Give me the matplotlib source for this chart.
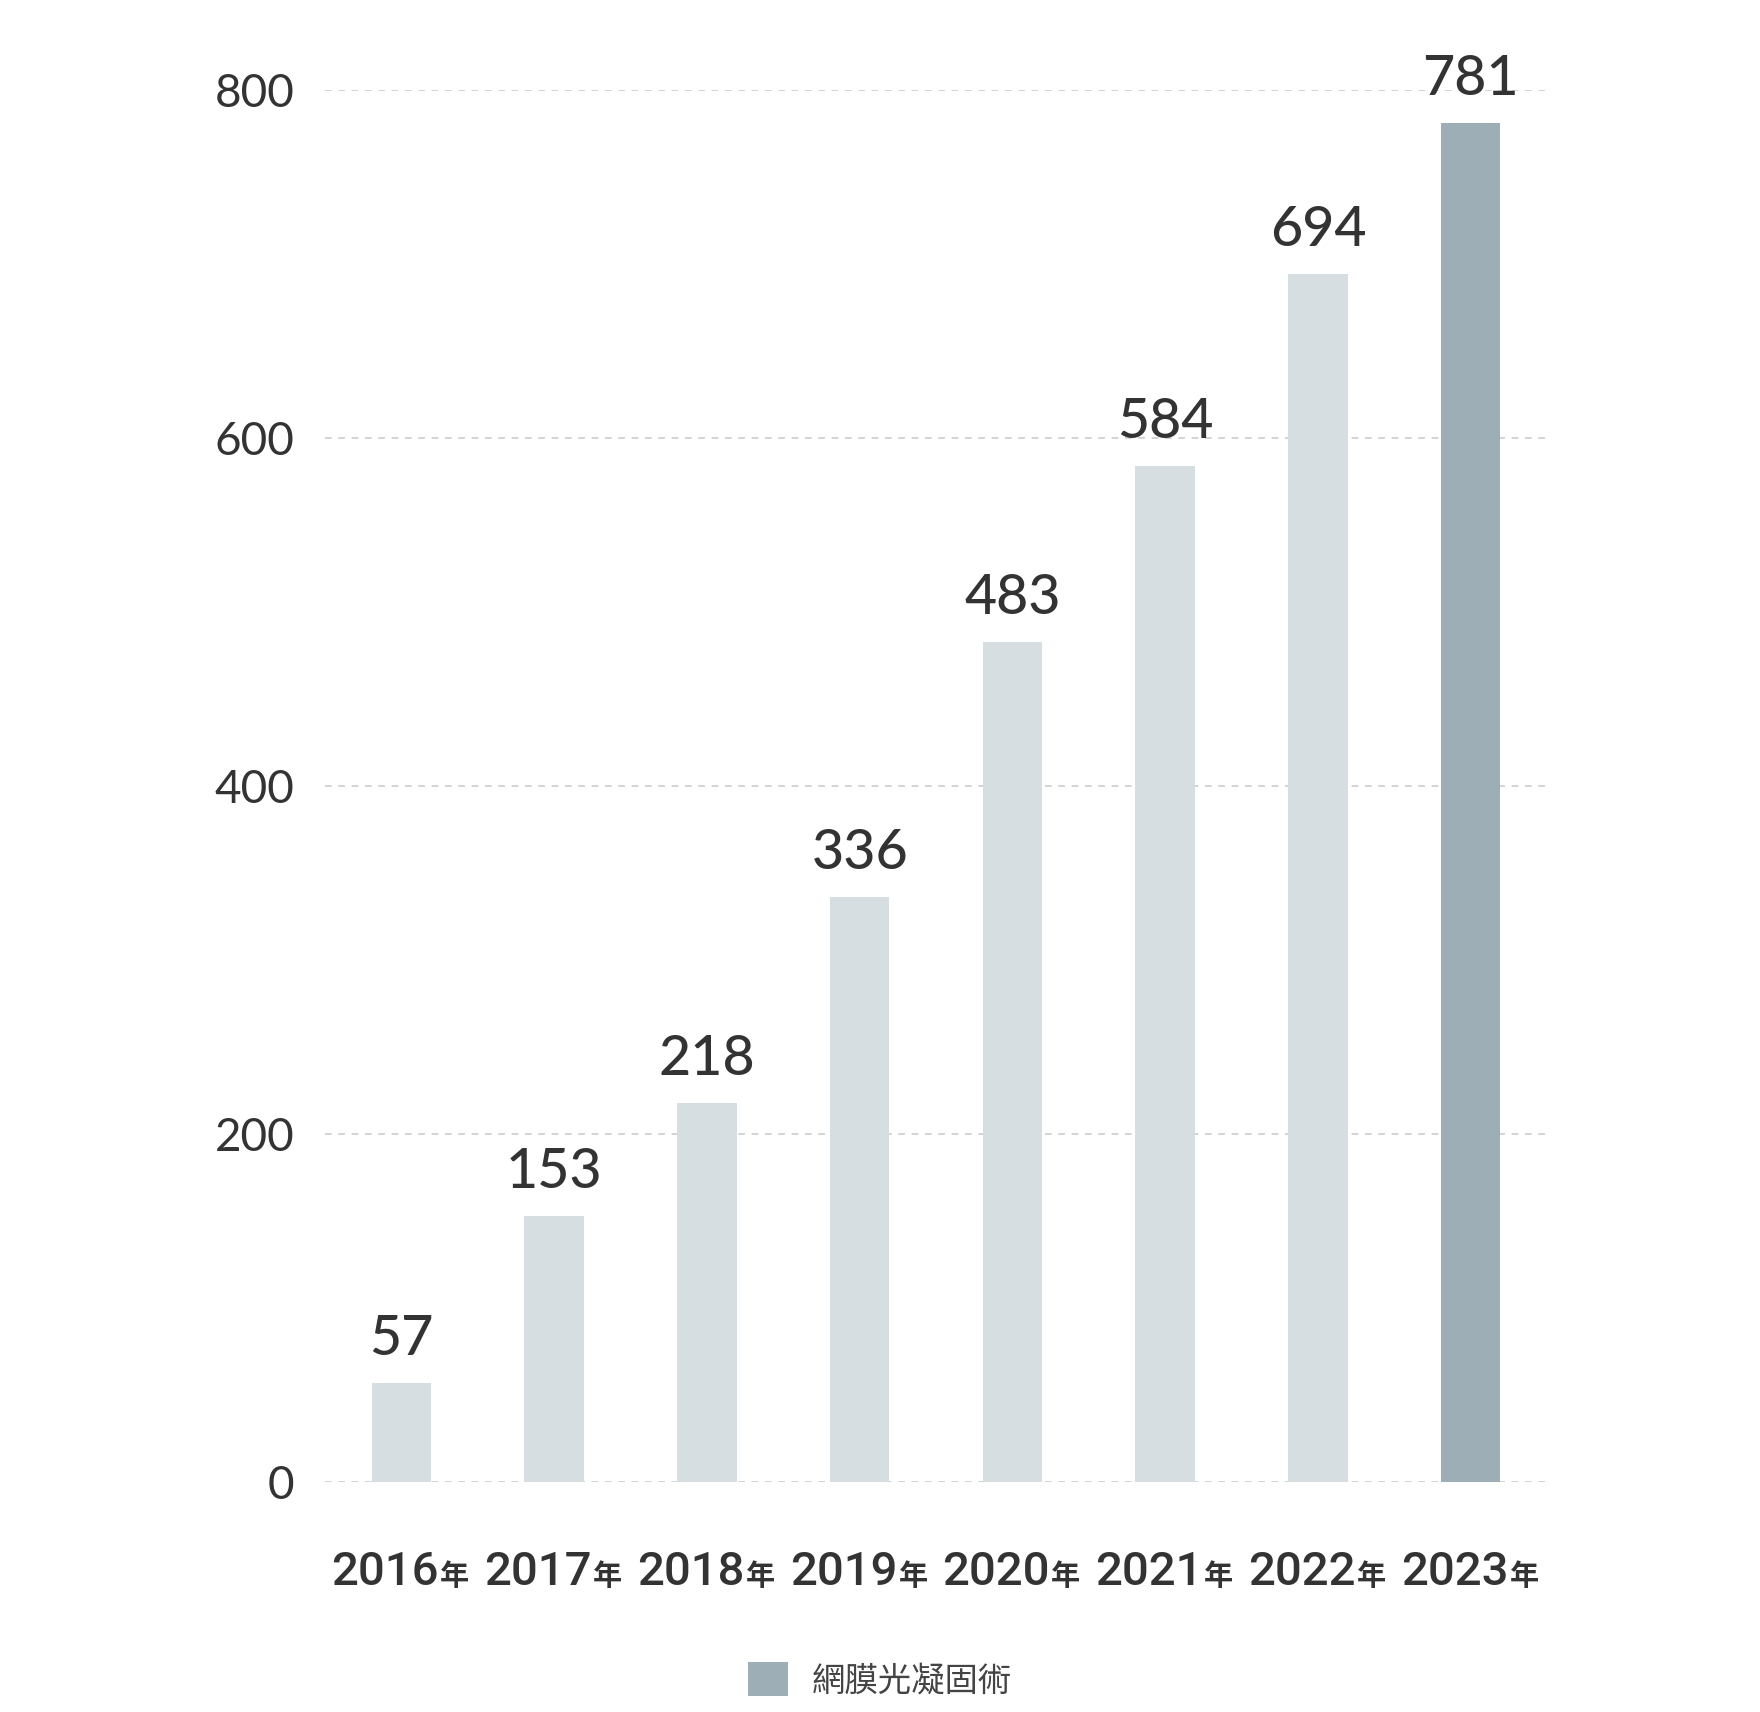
import matplotlib
matplotlib.use('Agg')
import matplotlib.pyplot as plt
from matplotlib.patches import Patch

years = ['2016', '2017', '2018', '2019', '2020', '2021', '2022', '2023']
year_suffix = '年'
counts = [57, 153, 218, 336, 483, 584, 694, 781]
yticks = [0, 200, 400, 600, 800]
legend_label = '網膜光凝固術'

light = '#d7dee1'
dark = '#9daeb7'
text_col = '#333333'
fonts = ['Lato', 'Noto Sans CJK TC', 'DejaVu Sans']

plt.rcParams['font.family'] = fonts

fig = plt.figure(figsize=(17.6, 17.12), dpi=100)
ax = fig.add_axes([0.1847, 0.1343, 0.6943, 0.8131])

colors = [light] * (len(counts) - 1) + [dark]
x = range(len(years))
bars = ax.bar(x, counts, width=0.39, color=colors, zorder=2)

for b, v in zip(bars, counts):
    ax.annotate(str(v), (b.get_x() + b.get_width() / 2, v), xytext=(0, 13),
                textcoords='offset points', ha='center', va='bottom',
                fontsize=40, color=text_col, fontweight='medium')

# year labels: digits + smaller 年, sharing one baseline
for i, yr in zip(x, years):
    ax.annotate(yr, (i, 0), xytext=(27, -74), textcoords='offset points',
                ha='right', va='baseline', fontsize=34, color=text_col,
                family=['Roboto', 'DejaVu Sans'], fontweight=500,
                annotation_clip=False)
    ax.annotate(year_suffix, (i, 0), xytext=(28, -74), textcoords='offset points',
                ha='left', va='baseline', fontsize=21, color=text_col,
                family=['Noto Sans CJK TC', 'DejaVu Sans'], fontweight='bold',
                annotation_clip=False)

ax.set_xlim(-0.5, 7.5)
ax.set_ylim(0, 800)
ax.set_yticks(yticks)
ax.set_yticklabels([str(t) for t in yticks], fontsize=33, color=text_col)
ax.set_xticks(list(x))
ax.set_xticklabels([])
ax.tick_params(axis='both', length=0)
ax.tick_params(axis='y', pad=22)

ax.grid(axis='y', linestyle=(0, (4, 4)), color='#cccccc', linewidth=1.2, zorder=0)
ax.grid(axis='x', visible=False)
ax.set_axisbelow(True)
for s in ax.spines.values():
    s.set_visible(False)

handle = Patch(facecolor=dark, edgecolor='none')
fig.legend([handle], [legend_label], loc='center', bbox_to_anchor=(0.5, 0.019),
           frameon=False, fontsize=24, handlelength=1.2, handleheight=1.2,
           handletextpad=0.7, labelcolor='#444444')

fig.savefig('out.png', dpi=100, facecolor='white')
